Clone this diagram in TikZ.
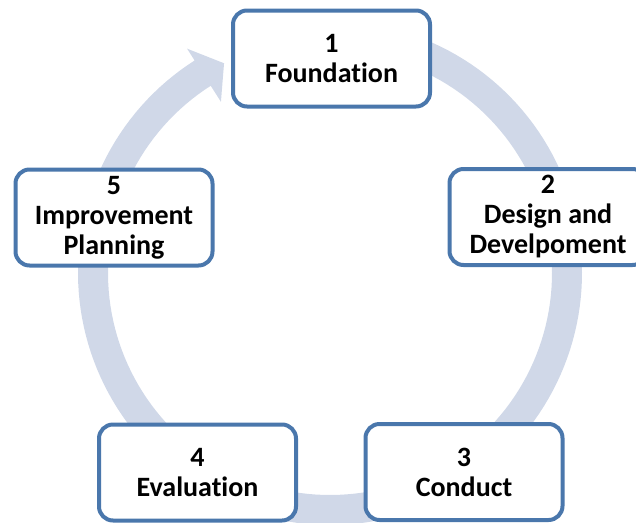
\documentclass[tikz,border=0pt]{standalone}
\usepackage{fontspec}
\setmainfont[Ligatures=NoCommon]{Carlito}
\definecolor{ringc}{RGB}{208,216,232}
\definecolor{boxc}{RGB}{74,119,172}
\tikzset{
  stepbox/.style={draw=boxc, line width=4pt, fill=white, rounded corners=14pt,
    minimum width=197pt, minimum height=96pt, inner sep=0pt, align=center,
    font=\fontsize{28}{30}\selectfont\bfseries}
}
\begin{document}
\begin{tikzpicture}[x=1pt,y=-1pt]
\useasboundingbox (0,0) rectangle (636,522);
\clip (0,0) rectangle (636,522);
% ring arrow
\fill[ringc]
  plot[domain=-80:237.5, samples=160] ({330+252*cos(\x)},{273+252*sin(\x)})
  -- ({330+266*cos(237.5)},{273+266*sin(237.5)})
  -- ({330+235*cos(243.2)},{273+235*sin(243.2)})
  -- ({330+203*cos(237.5)},{273+203*sin(237.5)})
  -- plot[domain=237.5:-80, samples=160] ({330+222*cos(\x)},{273+222*sin(\x)})
  -- cycle;
% boxes
\node[stepbox] (b1) at (331.5,58.5) {1\\Foundation};
\node[stepbox] (b2) at (548,217) {2\\Design and\\Develpoment};
\node[stepbox] (b3) at (464,472) {3\\Conduct};
\node[stepbox] (b4) at (197.5,472.5) {4\\Evaluation};
\node[stepbox] (b5) at (114,217.5) {5\\Improvement\\Planning};
\end{tikzpicture}
\end{document}
